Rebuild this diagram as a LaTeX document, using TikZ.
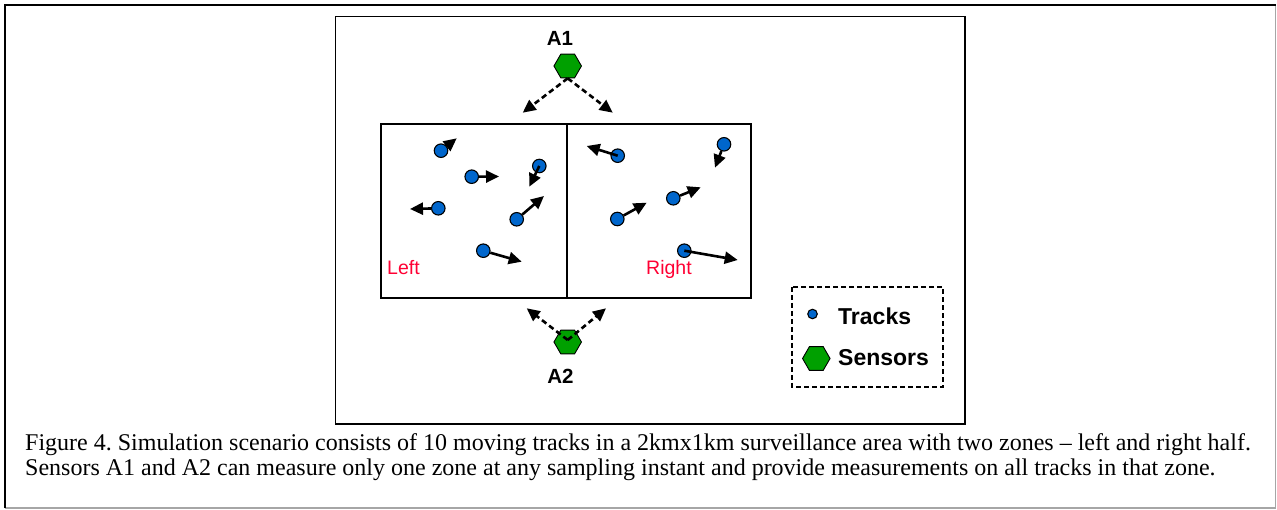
\documentclass[tikz,border=0pt]{standalone}
\usepackage{fontspec}
\setmainfont{Liberation Serif}
\setsansfont{Liberation Sans}
\usetikzlibrary{shapes.geometric,arrows.meta}
\definecolor{trackblue}{RGB}{0,102,204}
\definecolor{sensorgreen}{RGB}{0,160,0}
\definecolor{zonered}{RGB}{255,0,51}
\frenchspacing
\begin{document}
\begin{tikzpicture}[x=1pt,y=-1pt,
  track/.style={circle,draw=black,line width=1.1pt,fill=trackblue,minimum size=13.5pt,inner sep=0pt},
  sensor/.style={regular polygon,regular polygon sides=6,draw=black,line width=0.9pt,fill=sensorgreen,minimum size=27.5pt,inner sep=0pt},
  move/.style={line width=2.6pt,-{Triangle[length=13pt,width=12pt]}},
  beam/.style={line width=2.6pt,dash pattern=on 5.5pt off 3.5pt,-{Triangle[length=13pt,width=12pt]}},
  lbl/.style={font=\sffamily\bfseries\fontsize{20.5}{24}\selectfont,inner sep=0pt,anchor=base},
  zone/.style={font=\sffamily\fontsize{19.5}{23}\selectfont,text=zonered,inner sep=0pt,anchor=base west},
  leg/.style={font=\sffamily\bfseries\fontsize{23}{26}\selectfont,inner sep=0pt,anchor=base west},
  captext/.style={font=\fontsize{24}{25}\selectfont,inner sep=0pt,anchor=base west}]
\useasboundingbox (0,0) rectangle (1277,510);
% outer frame
\draw[gray!70,line width=1.5pt] (5,508) -- (1275.5,508) -- (1275.5,5);
\draw[black,line width=2pt] (5,508) -- (5,5) -- (1275.5,5);
% inner frame
\draw[line width=1.3pt] (335.5,16.5) rectangle (965,424);
% field
\draw[line width=1.3pt] (381,124) rectangle (751,298);
\draw[line width=1.3pt] (567,124) -- (567,298);
% zone labels
\node[zone] (left) at (387,275) {Left};
\node[zone] (right) at (646,275) {Right};
% sensors
\node[sensor] (A1) at (567.7,66) {};
\node[sensor] (A2) at (567.7,342) {};
\node[lbl] (A1l) at (560,46) {A1};
\node[lbl] (A2l) at (560.5,383.5) {A2};
\coordinate (A1a) at (522.7,112.7);
\coordinate (A1b) at (612.7,112.7);
\coordinate (A2c) at (567.7,340);
\coordinate (A2a) at (526.7,308.3);
\coordinate (A2b) at (606,308.3);
\draw[beam] (A1.south) -- (A1a);
\draw[beam] (A1.south) -- (A1b);
\draw[beam] (A2c) -- (A2a);
\draw[beam] (A2c) -- (A2b);
% tracks
\node[track] (t1) at (441,150.7) {};
\node[track] (t2) at (471.7,176.7) {};
\node[track] (t3) at (539.3,166) {};
\node[track] (t4) at (438.3,208.3) {};
\node[track] (t5) at (516.7,219.3) {};
\node[track] (t6) at (483.3,250.7) {};
\node[track] (t7) at (617.7,155.7) {};
\node[track] (t8) at (724,144.3) {};
\node[track] (t9) at (617.3,219) {};
\node[track] (t10) at (673.3,198.3) {};
\node[track] (t11) at (684.3,250.7) {};
\coordinate (e1) at (456.7,138.3);
\coordinate (e2) at (499,176.5);
\coordinate (e3) at (529.3,186.7);
\coordinate (e4) at (410,209);
\coordinate (e5) at (544,196);
\coordinate (e6) at (521.7,261.7);
\coordinate (e7) at (586.7,146);
\coordinate (e8) at (715,167.7);
\coordinate (e9) at (646.7,202.7);
\coordinate (e10) at (700.7,187.3);
\coordinate (e11) at (737.7,260);
\draw[move] (t1) -- (e1);
\draw[move] (t2) -- (e2);
\draw[move] (t3.center) -- (e3);
\draw[move] (t4) -- (e4);
\draw[move] (t5) -- (e5);
\draw[move] (t6) -- (e6);
\draw[move] (t7.center) -- (e7);
\draw[move] (t8) -- (e8);
\draw[move] (t9) -- (e9);
\draw[move] (t10) -- (e10);
\draw[move] (t11.center) -- (e11);
% legend
\draw[line width=1.8pt,dash pattern=on 5pt off 3pt] (792,287) rectangle (943,387);
\node[track,minimum size=9.5pt] (legt) at (812.5,314) {};
\node[sensor] (legs) at (816.3,358.5) {};
\node[leg] (legtl) at (838,325) {Tracks};
\node[leg] (legsl) at (838,366) {Sensors};
% caption
\node[captext] (cap1) at (25,450) {Figure 4. Simulation scenario consists of 10 moving tracks in a 2kmx1km surveillance area with two zones -- left and right half.};
\node[captext] (cap2) at (25,475) {Sensors A1 and A2 can measure only one zone at any sampling instant and provide measurements on all tracks in that zone.};
\end{tikzpicture}
\end{document}
